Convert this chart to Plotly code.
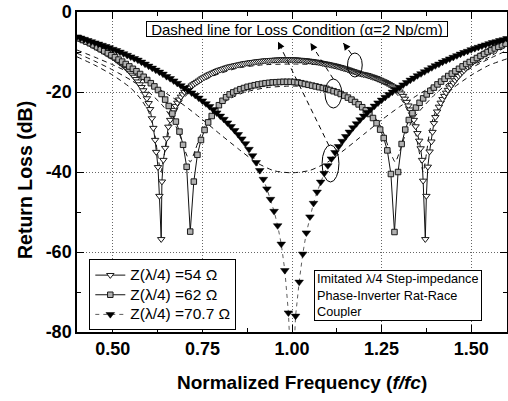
import numpy as np
import plotly.graph_objects as go

FONT = "Liberation Sans, Arial, sans-serif"

# ---------------- data ----------------
# Z(lambda/4)=70.7 ohm (filled triangles), f = 0.40 .. 1.60 step 0.01
z707_f = np.round(0.40 + 0.01 * np.arange(121), 3)
z707_db = [-6.2, -6.5, -6.8, -7.1, -7.4, -7.7, -8.0, -8.3, -8.6, -8.9,
           -9.3, -9.6, -10.0, -10.4, -10.8, -11.2, -11.6, -12.0, -12.5, -13.0,
           -13.5, -14.0, -14.5, -15.0, -15.5, -16.1, -16.6, -17.2, -17.8, -18.4,
           -19.0, -19.6, -20.2, -20.8, -21.5, -22.2, -22.9, -23.6, -24.4, -25.2,
           -26.0, -26.8, -27.7, -28.6, -29.6, -30.6, -31.7, -32.9, -34.3, -35.9,
           -37.6, -39.6, -41.8, -44.2, -46.8, -49.8, -53.4, -58.0, -64.6, -75.2,
           -95.0,
           -76.0, -67.5, -60.5, -55.2, -51.2, -47.8, -45.0, -42.5, -40.3, -38.4,
           -36.7, -35.1, -33.6, -32.3, -31.1, -30.0, -28.9, -27.9, -26.9, -26.0,
           -25.1, -24.3, -23.5, -22.7, -22.0, -21.3, -20.6, -20.0, -19.4, -18.8,
           -18.2, -17.6, -17.0, -16.5, -15.9, -15.4, -14.9, -14.4, -13.9, -13.4,
           -13.0, -12.5, -12.1, -11.7, -11.3, -10.9, -10.5, -10.1, -9.8, -9.4,
           -9.1, -8.8, -8.5, -8.2, -7.9, -7.6, -7.4, -7.1, -6.9, -6.6]

# Z(lambda/4)=62 ohm (squares), f = 0.406 .. 1.596 step 0.01
z62_f = np.round(0.406 + 0.01 * np.arange(120), 3)
z62_db = [-6.6, -7.0, -7.4, -7.8, -8.3, -8.8, -9.3, -9.8, -10.3, -10.8,
          -11.3, -11.9, -12.4, -13.0, -13.6, -14.2, -14.8, -15.5, -16.2, -17.0,
          -17.8, -18.6, -19.5, -20.5, -21.9, -23.5, -25.4, -27.4, -29.9, -33.2,
          -38.7, -54.9, -42.4, -35.7, -32.0, -29.5, -27.6, -26.0, -24.7, -23.3,
          -22.2, -21.3, -20.6, -20.1, -19.7, -19.3, -19.0, -18.7, -18.5, -18.3,
          -18.1, -17.95, -17.8, -17.7, -17.6, -17.55, -17.5, -17.45, -17.45, -17.45,
          -17.5, -17.6, -17.8, -18.0, -18.2, -18.4, -18.6, -18.8, -19.0, -19.2,
          -19.5, -19.8, -20.1, -20.5, -20.9, -21.4, -21.9, -22.5, -23.1, -23.8,
          -24.6, -25.5, -26.5, -27.8, -29.4, -31.5, -34.6, -40.5, -55.0, -40.0,
          -33.0, -29.4, -27.0, -25.3, -23.9, -22.7, -21.6, -20.6, -19.7, -18.9,
          -18.1, -17.4, -16.7, -16.0, -15.4, -14.8, -14.2, -13.6, -13.0, -12.5,
          -12.0, -11.5, -11.0, -10.5, -10.0, -9.6, -9.1, -8.7, -8.3, -7.9]

# Z(lambda/4)=54 ohm (open triangles), several segments
z54_db_a = [-6.4, -6.6, -6.8, -7.0, -7.2, -7.4, -7.7, -7.9, -8.1, -8.4,
            -8.6, -8.9, -9.1, -9.4, -9.6, -9.9, -10.2, -10.5, -10.8, -11.0,
            -11.3, -11.6, -12.0, -12.3, -12.7, -13.0, -13.4, -13.8, -14.3, -14.7,
            -15.2, -15.7, -16.2, -16.8, -17.4, -18.1, -18.8, -19.6, -20.5, -21.6,
            -22.8]                                   # f = 0.400 .. 0.600
z54_f_b = [0.604, 0.609, 0.613, 0.618, 0.621, 0.626, 0.630, 0.635, 0.637,
           0.641, 0.646, 0.650, 0.655]
z54_db_b = [-24.3, -26.6, -29.0, -32.0, -35.0, -38.8, -46.0, -56.8, -42.4,
            -37.0, -34.0, -31.6, -28.7]
z54_db_c = [-27.0, -25.6, -24.5, -23.5, -22.7, -21.9, -21.2, -20.6, -20.0, -19.6,
            -19.2, -18.8, -18.4, -18.1, -17.8, -17.5, -17.2, -16.9, -16.6, -16.35,
            -16.1, -15.85, -15.6, -15.4, -15.2, -15.0, -14.8, -14.6, -14.45, -14.3,
            -14.15, -14.0, -13.85, -13.7, -13.6, -13.5, -13.4, -13.3, -13.2, -13.1,
            -13.0, -12.9, -12.8, -12.75, -12.7, -12.6, -12.55, -12.5, -12.4, -12.35,
            -12.3, -12.25, -12.2, -12.15, -12.1, -12.1, -12.05, -12.0, -12.0, -11.95,
            -11.95, -11.9, -11.9, -11.9, -11.9, -11.9, -11.9, -11.9, -11.9, -11.9,
            -11.9, -11.95, -12.0, -12.0, -12.05, -12.1, -12.15, -12.2, -12.25, -12.3,
            -12.4, -12.45, -12.5, -12.6, -12.7, -12.8, -12.9, -12.95, -13.05, -13.15,
            -13.25, -13.35, -13.45, -13.55, -13.7, -13.8, -13.95, -14.1, -14.2, -14.35,
            -14.5, -14.65, -14.8, -14.95, -15.1, -15.25, -15.4, -15.5, -15.6, -15.7,
            -15.8, -15.95, -16.1, -16.25, -16.4, -16.55, -16.75, -16.95, -17.15, -17.35,
            -17.55, -17.8, -18.05, -18.3, -18.6, -18.9, -19.2, -19.5, -19.9, -20.4,
            -21.0, -21.7, -22.5, -23.4, -24.4]        # f = 0.660 .. 1.330
z54_f_d = [1.335, 1.340, 1.345, 1.350, 1.355, 1.359, 1.363, 1.366, 1.372,
           1.375, 1.379, 1.384, 1.389, 1.392, 1.396, 1.400]
z54_db_d = [-25.6, -27.0, -28.6, -30.3, -32.2, -34.1, -37.0, -42.2, -56.8,
            -46.0, -38.7, -34.9, -32.4, -30.0, -27.8, -26.3]
z54_db_e = [-24.9, -23.7, -22.7, -21.8, -21.0, -20.2, -19.5, -18.9, -18.3, -17.7,
            -17.1, -16.5, -16.0, -15.5, -15.0, -14.6, -14.1, -13.7, -13.3, -12.9,
            -12.5, -12.2, -11.9, -11.5, -11.2, -10.9, -10.6, -10.3, -10.1, -9.8,
            -9.5, -9.3, -9.0, -8.7, -8.5, -8.2, -8.0, -7.8, -7.5, -7.3]  # f = 1.405 .. 1.600

# lossy (dashed) curves, alpha = 2 Np/cm
loss707_f = [0.40, 0.45, 0.50, 0.55, 0.60, 0.65, 0.70, 0.75, 0.80, 0.85, 0.90, 0.95,
             1.00, 1.05, 1.10, 1.15, 1.20, 1.25, 1.30, 1.35, 1.40, 1.45, 1.50, 1.55, 1.60]
loss707_db = [-9.5, -11.3, -13.2, -15.3, -17.7, -20.4, -23.4, -26.9, -30.6, -34.2, -37.6, -39.7,
              -40.2, -39.6, -37.5, -34.2, -30.6, -27.0, -23.7, -20.8, -18.1, -15.7, -13.5, -11.3, -8.5]
loss62_f = [0.40, 0.45, 0.50, 0.55, 0.60, 0.64, 0.67, 0.69, 0.705, 0.716, 0.73, 0.75, 0.78,
            0.82, 0.87, 0.93, 1.00, 1.07, 1.13, 1.18, 1.22, 1.25, 1.27, 1.288, 1.30, 1.315,
            1.34, 1.40, 1.45, 1.50, 1.55, 1.60]
loss62_db = [-10.3, -12.3, -14.5, -17.0, -20.0, -23.5, -27.5, -31.5, -35.5, -37.5, -34.5, -29.5, -25.0,
             -22.0, -20.0, -18.9, -18.5, -18.9, -20.0, -22.0, -25.0, -29.0, -34.0, -37.5, -35.0, -31.0,
             -26.5, -20.5, -16.8, -14.0, -11.7, -9.6]
loss54_f = [0.40, 0.45, 0.50, 0.55, 0.58, 0.60, 0.615, 0.625, 0.634, 0.645, 0.66, 0.69, 0.73,
            0.78, 0.85, 0.92, 1.00, 1.08, 1.15, 1.22, 1.27, 1.31, 1.34, 1.355, 1.366, 1.375,
            1.385, 1.40, 1.42, 1.45, 1.50, 1.55, 1.60]
loss54_db = [-11.2, -13.3, -15.8, -19.0, -22.0, -25.0, -29.5, -35.5, -40.0, -35.0, -28.5, -22.5, -18.5,
             -16.0, -14.0, -13.2, -13.0, -13.2, -14.0, -16.0, -18.5, -22.5, -28.5, -35.0, -40.0, -35.5,
             -29.5, -25.0, -22.0, -19.0, -15.8, -13.3, -11.7]

x_ticks = [0.50, 0.75, 1.00, 1.25, 1.50]
x_ticktext = ["0.50", "0.75", "1.00", "1.25", "1.50"]
y_ticks = [0, -20, -40, -60, -80]
y_ticktext = ["0", "-20", "-40", "-60", "-80"]
series_names = ["Z(λ/4) =54 Ω", "Z(λ/4) =62 Ω", "Z(λ/4) =70.7 Ω"]

# ---------------- assemble ----------------
z54_f = np.concatenate([
    np.round(0.400 + 0.005 * np.arange(len(z54_db_a)), 3),
    z54_f_b,
    np.round(0.660 + 0.005 * np.arange(len(z54_db_c)), 3),
    z54_f_d,
    np.round(1.405 + 0.005 * np.arange(len(z54_db_e)), 3),
])
z54_db = np.concatenate([z54_db_a, z54_db_b, z54_db_c, z54_db_d, z54_db_e])


def leg(name):
    return "<span style='font-size:15.5px'>" + name + "</span>"


fig = go.Figure()

dash_style = dict(color="#111111", width=1, dash="5px,4px")
for fx, fy in [(loss54_f, loss54_db), (loss62_f, loss62_db), (loss707_f, loss707_db)]:
    fig.add_trace(go.Scatter(x=fx, y=fy, mode="lines", line=dict(shape="spline", smoothing=0.6, **dash_style),
                             showlegend=False, hoverinfo="skip"))

fig.add_trace(go.Scatter(
    x=z54_f, y=z54_db, mode="lines+markers", name=leg(series_names[0]),
    line=dict(color="#111111", width=1),
    marker=dict(symbol="triangle-down", size=6.5, color="white", line=dict(color="#1a1a1a", width=1))))
fig.add_trace(go.Scatter(
    x=z62_f, y=z62_db, mode="lines+markers", name=leg(series_names[1]),
    line=dict(color="#111111", width=1),
    marker=dict(symbol="square", size=5.5, color="#b0b0b0", line=dict(color="#1a1a1a", width=1))))
fig.add_trace(go.Scatter(
    x=z707_f, y=z707_db, mode="lines+markers", name=leg(series_names[2]),
    line=dict(color="#333333", width=0.8, dash="4px,4px"),
    marker=dict(symbol="triangle-down", size=7.5, color="#000000", line=dict(color="#000000", width=0.5))))

# ---------------- ellipses and arrows ----------------
ellipses = [(1.155, 1.196, -10.25, -16.25),
            (1.092, 1.139, -16.75, -24.0),
            (1.084, 1.131, -33.25, -42.5)]
for x0, x1, y0, y1 in ellipses:
    fig.add_shape(type="circle", xref="x", yref="y", x0=x0, x1=x1, y0=y0, y1=y1,
                  line=dict(color="black", width=1))

arrows = [  # tail (x, y), head (x, y), pixel offset of arrow stub
    ((1.166, -10.5), (1.1432, -7.75), (4.2, 5.6)),
    ((1.1153, -16.75), (1.0516, -7.75), (3.7, 5.9)),
    ((1.103, -33.4), (0.961, -7.43), (3.1, 6.3)),
]
for (tx, ty), (hx, hy), (ox, oy) in arrows:
    fig.add_shape(type="line", xref="x", yref="y", x0=tx, y0=ty, x1=hx, y1=hy,
                  line=dict(color="black", width=1, dash="5px,4px"))
    fig.add_annotation(x=hx, y=hy, xref="x", yref="y", text="", showarrow=True,
                       ax=ox, ay=oy, arrowhead=2, arrowsize=1.3, arrowwidth=1.1, arrowcolor="black")

# ---------------- text boxes ----------------
fig.add_annotation(xref="paper", yref="paper", x=0.5123, y=0.9475, xanchor="center", yanchor="middle",
                   text="Dashed line for Loss Condition (α=2 Np/cm)",
                   showarrow=False, font=dict(family=FONT, size=15, color="black"),
                   height=14, width=300, align="center",
                   bordercolor="black", borderwidth=1, borderpad=0, bgcolor="white")
fig.add_annotation(xref="paper", yref="paper", x=0.5519, y=0.1140, xanchor="left", yanchor="middle",
                   text="Imitated λ/4 Step-impedance<br>Phase-Inverter Rat-Race<br>Coupler",
                   showarrow=False, align="left", valign="middle",
                   font=dict(family=FONT, size=12.7, color="black"),
                   height=45, bordercolor="black", borderwidth=1, borderpad=2, bgcolor="white")

# axis titles
fig.add_annotation(xref="paper", yref="paper", x=0.5244, y=-0.159, xanchor="center", yanchor="middle",
                   text="Normalized Frequency (<i>f/fc</i>)", showarrow=False,
                   font=dict(family=FONT, size=19, color="black", weight="bold"))
fig.add_annotation(xref="paper", yref="paper", x=-0.1209, y=0.475, xanchor="center", yanchor="middle",
                   text="Return Loss (dB)", showarrow=False, textangle=-90,
                   font=dict(family=FONT, size=19.5, color="black", weight="bold"))

axis_common = dict(showline=True, linecolor="black", linewidth=1.5, mirror="allticks",
                   ticks="inside", ticklen=7, tickwidth=1.3, tickcolor="black",
                   showgrid=True, gridcolor="#666666", gridwidth=1, griddash="1px,2px",
                   zeroline=False,
                   tickfont=dict(family=FONT, size=18, color="black", weight="bold"))

fig.update_xaxes(range=[0.4, 1.6], tickmode="array", tickvals=x_ticks, ticktext=x_ticktext,
                 minor=dict(tickmode="array", tickvals=[0.625, 0.875, 1.125, 1.375], ticks="inside",
                            ticklen=4, tickwidth=1.2, tickcolor="black", showgrid=False),
                 **axis_common)
fig.update_yaxes(range=[-80, 0], tickmode="array", tickvals=y_ticks, ticktext=y_ticktext,
                 minor=dict(tickmode="array", tickvals=[-10, -30, -50, -70], ticks="inside",
                            ticklen=4, tickwidth=1.2, tickcolor="black", showgrid=False),
                 **axis_common)

fig.update_layout(
    width=508, height=401,
    margin=dict(l=77, r=1, t=12, b=69, autoexpand=False),
    paper_bgcolor="white", plot_bgcolor="white",
    font=dict(family=FONT, color="black"),
    legend=dict(x=0.0286, y=0.2272, xanchor="left", yanchor="top",
                bordercolor="black", borderwidth=1, bgcolor="white",
                font=dict(family=FONT, size=12.8, color="black"),
                tracegroupgap=0, itemwidth=30),
)

fig.write_html("out.html")
